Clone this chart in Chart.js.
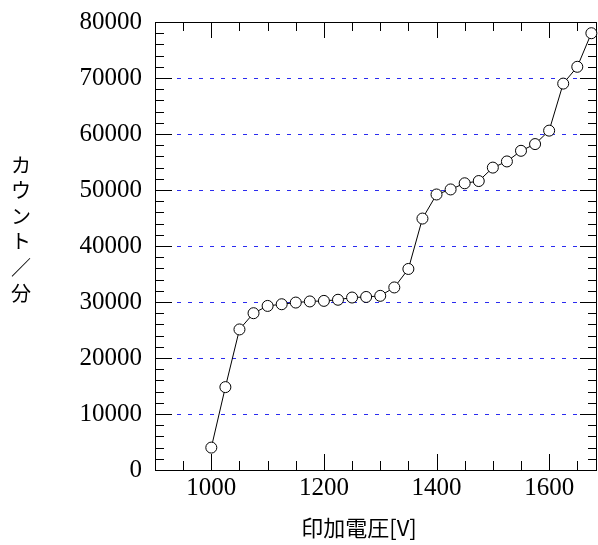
<!DOCTYPE html>
<html>
  <head>
    <meta charset="utf-8" />
    <title>Plateau curve</title>
    <style>
      html, body { margin: 0; padding: 0; background: #fff; overflow: hidden; }
      #wrap { width: 598px; height: 545px; position: relative; }
      canvas { display: block; }
    </style>
  </head>
  <body>
    <div id="wrap"><canvas id="myChart"></canvas></div>

    <script src="https://cdn.jsdelivr.net/npm/chart.js@4/dist/chart.umd.min.js"></script>
    <script>
      // applied voltage [V]
      const voltages = [
        1000, 1025, 1050, 1075, 1100, 1125, 1150, 1175, 1200, 1225, 1250, 1275,
        1300, 1325, 1350, 1375, 1400, 1425, 1450, 1475, 1500, 1525, 1550, 1575,
        1600, 1625, 1650, 1675,
      ];
      // counts per minute
      const counts = [
        4000, 14800, 25100, 28000, 29300, 29600, 29900, 30100, 30200, 30400,
        30800, 30900, 31100, 32600, 35900, 44900, 49200, 50100, 51200, 51600,
        54000, 55100, 57000, 58200, 60600, 69000, 72000, 78000,
      ];
      const xTicks = [1000, 1200, 1400, 1600];
      const yTicks = [0, 10000, 20000, 30000, 40000, 50000, 60000, 70000, 80000];
      const xTitle = "印加電圧[V]";
      const yTitle = "カウント／分";

      const points = voltages.map((v, i) => ({ x: v, y: counts[i] }));

      // frame, inward tick marks and axis titles
      const framePlugin = {
        id: "frame",
        beforeDatasetsDraw(chart) {
          const { ctx, chartArea: a, scales } = chart;
          const xs = scales.x, ys = scales.y;
          ctx.save();
          ctx.strokeStyle = "#000";
          ctx.lineWidth = 1;
          ctx.beginPath();
          // x ticks, minor every 50, major every 200
          for (let v = 950; v <= 1685; v += 50) {
            const px = Math.round(xs.getPixelForValue(v)) + 0.5;
            const len = v % 200 === 0 ? 16 : 9;
            ctx.moveTo(px, a.bottom);
            ctx.lineTo(px, a.bottom - len);
            ctx.moveTo(px, a.top);
            ctx.lineTo(px, a.top + len);
          }
          // y ticks, minor every 2000, major every 10000
          for (let v = 2000; v < 80000; v += 2000) {
            const py = Math.round(ys.getPixelForValue(v)) + 0.5;
            const len = v % 10000 === 0 ? 17 : 9;
            ctx.moveTo(a.left, py);
            ctx.lineTo(a.left + len, py);
            ctx.moveTo(a.right, py);
            ctx.lineTo(a.right - len, py);
          }
          ctx.stroke();
          ctx.strokeRect(a.left + 0.5, a.top + 0.5, a.right - a.left - 1, a.bottom - a.top);

          ctx.fillStyle = "#000";
          ctx.font = '20px "Noto Sans CJK JP"';
          ctx.textAlign = "center";
          ctx.textBaseline = "middle";
          const chars = Array.from(yTitle);
          chars.forEach((c, i) => ctx.fillText(c, 21, 165 + i * 25.6));

          ctx.font = '22px "Noto Sans CJK JP"';
          ctx.fillText(xTitle, 359, 528);
          ctx.restore();
        },
      };

      const ctx = document.getElementById("myChart").getContext("2d");
      const myChart = new Chart(ctx, {
        type: "line",
        data: {
          datasets: [
            {
              data: points,
              borderColor: "#000",
              borderWidth: 1,
              backgroundColor: "#fff",
              pointRadius: 5.5,
              pointBorderWidth: 1,
              pointBackgroundColor: "#fff",
              pointBorderColor: "#000",
              tension: 0,
              clip: false,
            },
          ],
        },
        options: {
          responsive: true,
          maintainAspectRatio: false,
          animation: false,
          layout: { autoPadding: false, padding: { top: 22, right: 1, left: 0, bottom: 0 } },
          plugins: { legend: { display: false }, tooltip: { enabled: false } },
          scales: {
            x: {
              type: "linear",
              min: 900,
              max: 1685,
              afterBuildTicks: (s) => { s.ticks = xTicks.map((v) => ({ value: v })); },
              afterFit: (s) => {
                s.height = 75;
                s.paddingLeft = 0;
                s.paddingRight = 0;
              },
              grid: { display: false, drawTicks: false },
              border: { display: false },
              ticks: {
                color: "#000",
                padding: 3,
                maxRotation: 0,
                callback: (v) => String(v),
                font: { family: '"Liberation Serif", serif', size: 25 },
              },
            },
            y: {
              min: 0,
              max: 80000,
              afterBuildTicks: (s) => { s.ticks = yTicks.map((v) => ({ value: v })); },
              afterFit: (s) => {
                s.width = 155;
                s.paddingTop = 0;
                s.paddingBottom = 0;
              },
              grid: {
                drawTicks: false,
                color: "#2b2bf0",
                lineWidth: 1,
              },
              border: { display: false, dash: [4, 7] },
              ticks: {
                color: "#000",
                padding: 13,
                callback: (v) => String(v),
                font: { family: '"Liberation Serif", serif', size: 25 },
              },
            },
          },
        },
        plugins: [framePlugin],
      });
    </script>
  </body>
</html>
